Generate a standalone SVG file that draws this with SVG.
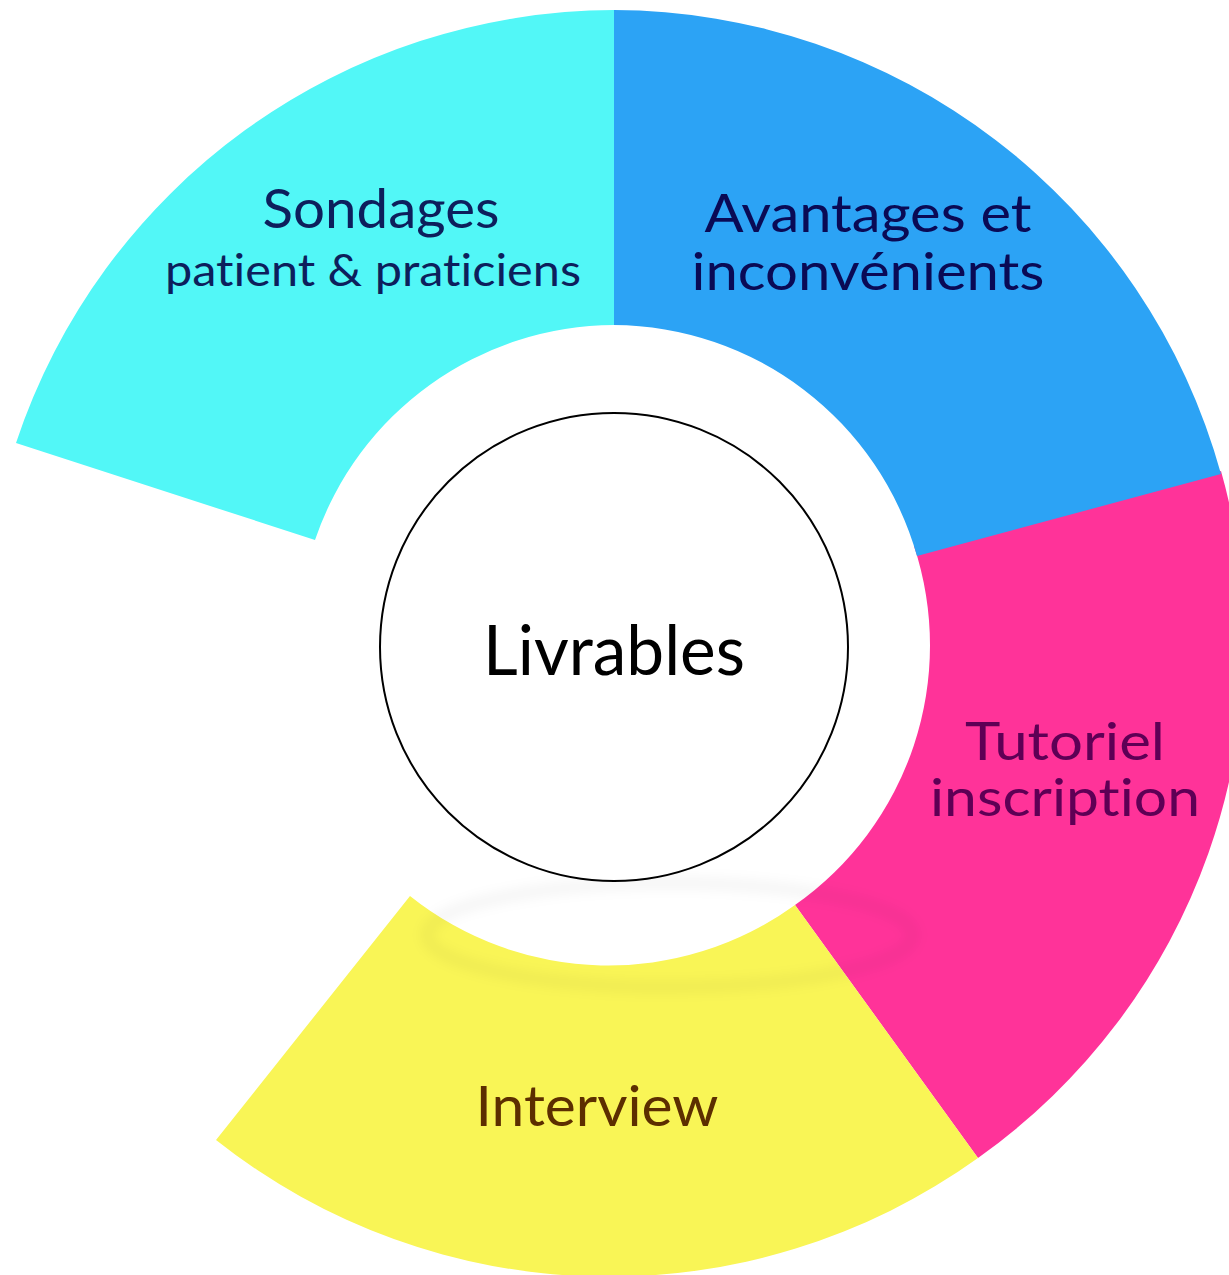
<svg xmlns="http://www.w3.org/2000/svg" width="1229" height="1275" viewBox="0 0 1229 1275">
<style>
.lbl{font-family:Lato,"Liberation Sans",sans-serif;text-anchor:middle;font-variant-ligatures:none}
</style>
<defs>
<filter id="blur" x="-20%" y="-50%" width="140%" height="200%"><feGaussianBlur stdDeviation="6"/></filter>
</defs>
<rect width="1229" height="1275" fill="#ffffff"/>
<g id="seg-sondages">
<path d="M 16 443 A 632 632 0 0 1 614 10 L 614 325 A 317 317 0 0 0 315 540 Z" fill="#52f7f7"/>
<text class="lbl" x="381" y="228" font-size="55" fill="#0d1f5c" textLength="237" lengthAdjust="spacingAndGlyphs">Sondages</text>
<text class="lbl" x="373" y="286" font-size="44" fill="#0d1f5c" textLength="416" lengthAdjust="spacingAndGlyphs">patient &amp; praticiens</text>
</g>
<g id="seg-tutoriel">
<path d="M 1221 471 A 632 632 0 0 1 978 1158 L 795 905 A 317 317 0 0 0 914 546 Z" fill="#ff3399"/>
<text class="lbl" x="1065" y="760" font-size="52" fill="#5e0055" textLength="200" lengthAdjust="spacingAndGlyphs">Tutoriel</text>
<text class="lbl" x="1065" y="816" font-size="52" fill="#5e0055" textLength="270" lengthAdjust="spacingAndGlyphs">inscription</text>
</g>
<g id="seg-avantages">
<path d="M 614 10 A 632 632 0 0 1 1221 474 L 917 556 A 317 317 0 0 0 614 325 Z" fill="#2ca3f5"/>
<text class="lbl" x="868" y="232" font-size="52" fill="#0a0a55" textLength="327" lengthAdjust="spacingAndGlyphs">Avantages et</text>
<text class="lbl" x="868" y="290" font-size="52" fill="#0a0a55" textLength="353" lengthAdjust="spacingAndGlyphs">inconvénients</text>
</g>
<g id="seg-interview">
<path d="M 978 1158 A 633 633 0 0 1 216 1140 L 410 896 A 318 318 0 0 0 795 905 Z" fill="#f9f556"/>
<text class="lbl" x="597" y="1126" font-size="56" fill="#5c2e00" textLength="243" lengthAdjust="spacingAndGlyphs">Interview</text>
</g>
<g id="shadow">
<ellipse cx="670" cy="935" rx="243" ry="52" fill="none" stroke="#000" stroke-opacity="0.04" stroke-width="12" filter="url(#blur)"/>
</g>
<g id="center">
<circle cx="614" cy="647" r="234" fill="#ffffff" stroke="#000000" stroke-width="2"/>
<text class="lbl" x="614" y="675" font-size="70" fill="#000000" textLength="262" lengthAdjust="spacingAndGlyphs">Livrables</text>
</g>
<g id="connectors"/>
</svg>
